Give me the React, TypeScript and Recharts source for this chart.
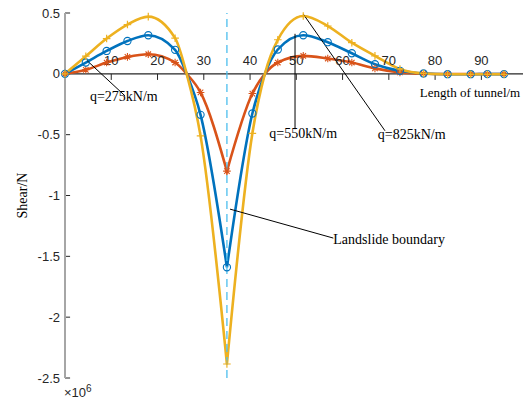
import { Line, LineChart, ReferenceDot, ReferenceLine, XAxis, YAxis } from "recharts";

// tunnel length (m) of the plotted points
const positions = [0, 4.5, 9, 13.5, 18, 23.8, 26.3, 29.3, 35, 40.5, 43.2, 46, 51.5, 56.8, 62, 67, 72.4, 77.5, 82.7, 87.7, 91.3, 94.9];
// points read off the curve where MATLAB drew no marker
const unmarked = [26.3, 43.2];
const boundary = 35;

// shear, x10^6 N
const shear275 = [0, 0.033, 0.093, 0.139, 0.161, 0.093, 0, -0.153, -0.8, -0.162, 0, 0.093, 0.148, 0.126, 0.093, 0.045, 0.012, 0.001, -0.001, -0.001, -0.001, -0.001];
const shear550 = [0, 0.093, 0.188, 0.27, 0.317, 0.197, 0, -0.337, -1.59, -0.326, 0, 0.2, 0.317, 0.26, 0.169, 0.079, 0.025, 0.003, -0.003, -0.003, -0.002, -0.002];
const shear825 = [0, 0.145, 0.29, 0.405, 0.47, 0.293, 0, -0.51, -2.385, -0.49, 0, 0.28, 0.475, 0.393, 0.256, 0.148, 0.04, 0.003, -0.003, -0.004, -0.004, -0.004];

const xTicks = [10, 20, 30, 40, 50, 60, 70, 80, 90];
const yTicks = [0.5, 0, -0.5, -1, -1.5, -2, -2.5];

const notes = [
  { text: "q=275kN/m", from: [4.82, 0.107], to: [12.97, -0.181], at: [5.4, -0.19] },
  { text: "q=550kN/m", from: [49.72, 0.329], to: [49.72, -0.455], at: [44.16, -0.49] },
  { text: "q=825kN/m", from: [51.51, 0.491], to: [69.17, -0.468], at: [67.6, -0.497] },
  { text: "Landslide boundary", from: [35.67, -1.112], to: [58.0, -1.35], at: [58.0, -1.362] },
];

const series = [
  { name: "q275", values: shear275, color: "#D95319", marker: "star" },
  { name: "q550", values: shear550, color: "#0072BD", marker: "circle" },
  { name: "q825", values: shear825, color: "#EDB120", marker: "plus" },
];

const axisFont = { fontFamily: "'Liberation Sans', Arial, sans-serif", fontSize: 13, fill: "#262626" };
const serif = { fontFamily: "'Liberation Serif', 'Times New Roman', serif", fontSize: 14, fill: "#000" };

// monotone cubic through p, like d3's curveMonotoneX
function drawMonotone(ctx: any, p: number[][], first: boolean) {
  const n = p.length;
  if (first) ctx.moveTo(p[0][0], p[0][1]);
  if (n < 2) return;
  const sec = (i: number) => (p[i + 1][1] - p[i][1]) / (p[i + 1][0] - p[i][0] || 1);
  const t: number[] = new Array(n).fill(0);
  for (let i = 1; i < n - 1; i++) {
    const h0 = p[i][0] - p[i - 1][0];
    const h1 = p[i + 1][0] - p[i][0];
    const s0 = sec(i - 1);
    const s1 = sec(i);
    const m = (s0 * h1 + s1 * h0) / (h0 + h1);
    t[i] = (Math.sign(s0) + Math.sign(s1)) * Math.min(Math.abs(s0), Math.abs(s1), 0.5 * Math.abs(m)) || 0;
  }
  if (n === 2) {
    t[0] = t[1] = sec(0);
  } else {
    t[0] = (3 * sec(0) - t[1]) / 2;
    t[n - 1] = (3 * sec(n - 2) - t[n - 2]) / 2;
  }
  for (let i = 0; i < n - 1; i++) {
    const dx = (p[i + 1][0] - p[i][0]) / 3;
    ctx.bezierCurveTo(p[i][0] + dx, p[i][1] + dx * t[i], p[i + 1][0] - dx, p[i + 1][1] - dx * t[i + 1], p[i + 1][0], p[i + 1][1]);
  }
}

// smooth curve with a sharp corner at one point (the landslide boundary)
function cornerCurve(corner: number) {
  return (context: any) => {
    let pts: number[][] = [];
    return {
      areaStart() {},
      areaEnd() {},
      lineStart() {
        pts = [];
      },
      point(x: number, y: number) {
        pts.push([+x, +y]);
      },
      lineEnd() {
        const pieces = corner > 0 && corner < pts.length - 1 ? [pts.slice(0, corner + 1), pts.slice(corner)] : [pts];
        pieces.forEach((piece, k) => drawMonotone(context, piece, k === 0));
      },
    };
  };
}

function makeDot(shape: string, color: string) {
  return (props: any) => {
    const { cx, cy, payload, index } = props;
    if (!payload?.mark || cx == null) return <g key={index} />;
    const s = 3.8;
    if (shape === "circle")
      return <circle key={index} cx={cx} cy={cy} r={3.6} fill="none" stroke={color} strokeWidth={1.1} />;
    if (shape === "plus")
      return (
        <path key={index} d={`M${cx - s},${cy}H${cx + s}M${cx},${cy - s}V${cy + s}`} stroke={color} strokeWidth={1.2} />
      );
    const d = s * 0.72;
    return (
      <path
        key={index}
        d={`M${cx - s},${cy}H${cx + s}M${cx},${cy - s}V${cy + s}M${cx - d},${cy - d}L${cx + d},${cy + d}M${cx - d},${cy + d}L${cx + d},${cy - d}`}
        stroke={color}
        strokeWidth={1.1}
      />
    );
  };
}

function textAt(text: string, dx: number, dy: number, anchor: string, style: any) {
  return ({ viewBox }: any) => (
    <text x={viewBox.x + dx} y={viewBox.y + dy} textAnchor={anchor} dominantBaseline="central" {...style}>
      {text}
    </text>
  );
}

export default function App() {
  const cornerIndex = positions.indexOf(boundary);
  return (
    <div style={{ position: "absolute", left: 0, top: 0, background: "#fff" }}>
      <LineChart width={524} height={400} margin={{ top: 13, right: 1, bottom: 22, left: 0 }}>
        <XAxis type="number" dataKey="x" domain={[0, 99]} hide />
        <YAxis
          type="number"
          domain={[-2.5, 0.5]}
          ticks={yTicks}
          width={65}
          tickLine={false}
          tickSize={0}
          tickMargin={5}
          axisLine={{ stroke: "#a6a6a6", strokeWidth: 2 }}
          tick={axisFont}
          label={({ viewBox }: any) => (
            <text
              x={viewBox.x + 22}
              y={viewBox.y + viewBox.height / 2}
              transform={`rotate(-90 ${viewBox.x + 22} ${viewBox.y + viewBox.height / 2})`}
              textAnchor="middle"
              dominantBaseline="central"
              {...serif}
            >
              Shear/N
            </text>
          )}
        />
        <ReferenceLine y={0} stroke="#262626" strokeWidth={1.1} />
        {xTicks.map((t) => (
          <ReferenceLine key={"xt" + t} segment={[{ x: t, y: 0 }, { x: t, y: -0.05 }]} stroke="#262626" />
        ))}
        {yTicks.map((t) => (
          <ReferenceLine key={"yt" + t} segment={[{ x: 0, y: t }, { x: 1.1, y: t }]} stroke="#262626" />
        ))}
        {xTicks.map((t) => (
          <ReferenceDot
            key={"xl" + t}
            x={t}
            y={0}
            r={0}
            stroke="none"
            label={textAt(String(t), 0, -13, "middle", axisFont)}
          />
        ))}
        {series.map((s) => (
          <Line
            key={s.name}
            data={positions.map((x, i) => ({ x, y: s.values[i], mark: !unmarked.includes(x) }))}
            dataKey="y"
            type={cornerCurve(cornerIndex) as any}
            stroke={s.color}
            strokeWidth={2.6}
            dot={makeDot(s.marker, s.color)}
            activeDot={false}
            isAnimationActive={false}
          />
        ))}
        <ReferenceLine x={boundary} stroke="#4DBEEE" strokeWidth={1.3} strokeDasharray="8 5" />
        {notes.map((n) => (
          <ReferenceLine
            key={"nl" + n.text}
            segment={[{ x: n.from[0], y: n.from[1] }, { x: n.to[0], y: n.to[1] }]}
            stroke="#000"
            strokeWidth={1}
          />
        ))}
        {notes.map((n) => (
          <ReferenceDot
            key={"nt" + n.text}
            x={n.at[0]}
            y={n.at[1]}
            r={0}
            stroke="none"
            label={textAt(n.text, 0, 0, "start", serif)}
          />
        ))}
        <ReferenceDot
          x={98.4}
          y={-0.156}
          r={0}
          stroke="none"
          label={textAt("Length of tunnel/m", 0, 0, "end", { ...serif, fontSize: 13 })}
        />
        <ReferenceDot
          x={0}
          y={-2.5}
          r={0}
          stroke="none"
          ifOverflow="visible"
          label={({ viewBox }: any) => (
            <g {...axisFont}>
              <text x={viewBox.x - 1} y={viewBox.y + 18.5}>
                ×10
              </text>
              <text x={viewBox.x + 21} y={viewBox.y + 13.5} fontSize={10}>
                6
              </text>
            </g>
          )}
        />
      </LineChart>
    </div>
  );
}
